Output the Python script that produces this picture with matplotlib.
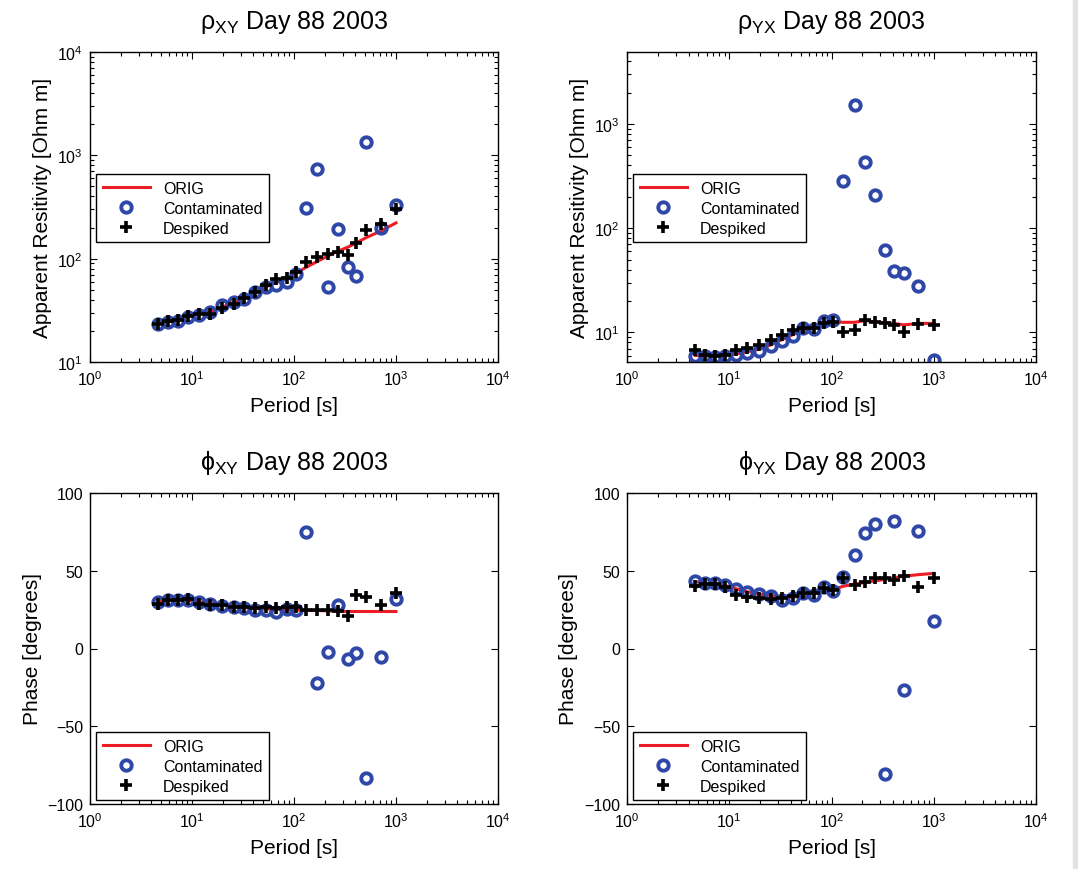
import numpy as np
import matplotlib
matplotlib.use('Agg')
import matplotlib.pyplot as plt
from matplotlib.patches import Rectangle

plt.rcParams['font.family'] = ['Liberation Sans', 'DejaVu Sans']
plt.rcParams['mathtext.fontset'] = 'custom'
plt.rcParams['mathtext.rm'] = 'Liberation Sans'
plt.rcParams['mathtext.it'] = 'Liberation Sans'
plt.rcParams['mathtext.default'] = 'regular'

# periods [s]
period = [4.67, 5.84, 7.31, 9.14, 11.6, 14.9, 19.7, 25.6, 32.6, 41.7, 52.9, 67.3,
          84.9, 104, 130, 169, 214, 268, 336, 408, 511, 709, 1000]

# rho xy
rho_xy_orig = [23.3, 24.5, 25.2, 27.5, 29.0, 30.5, 34.0, 37.5, 41.5, 47.0, 53.5, 59.0,
               64.0, 72.0, 82.0, 94.0, 106, 118, 129, 142, 160, 185, 222]
rho_xy_cont = [23.3, 24.4, 25.0, 27.2, 28.6, 30.8, 35.3, 38.0, 40.9, 47.5, 53.1, 55.9,
               59.3, 71.1, 309, 743, 53.1, 195, 83, 68, 1346, 198, 328]
rho_xy_desp = [23.5, 24.8, 25.3, 27.7, 29.4, 29.4, 33.3, 36.7, 41.6, 47.5, 55.2, 63.1,
               65.0, 74.3, 92.9, 104, 112, 116, 109, 143, 188, 218, 305]

# rho yx
rho_yx_orig = [6.0, 5.95, 5.9, 6.0, 6.2, 6.5, 6.9, 7.6, 8.5, 9.5, 10.6, 11.0,
               12.0, 12.6, 12.5, 12.5, 13.0, 12.6, 12.4, 12.2, 11.8, 12.2, 12.2]
rho_yx_cont = [5.89, 5.89, 5.8, 5.97, 6.11, 6.33, 6.58, 7.45, 8.2, 9.3, 11.0, 10.8,
               12.8, 13.2, 282, 1510, 428, 210, 62.2, 39.1, 37.1, 27.7, 5.38]
rho_yx_desp = [6.82, 6.11, 5.97, 6.11, 6.82, 7.07, 7.62, 8.5, 9.5, 10.6, 11.0, 11.0,
               12.3, 12.5, 10.2, 10.5, 13.2, 12.5, 12.3, 11.8, 10.0, 12.1, 11.7]

# phi xy
phi_xy_orig = [30.0, 30.8, 31.0, 31.0, 30.2, 29.0, 28.0, 27.0, 26.3, 25.8, 25.5, 25.2,
               25.0, 24.8, 24.6, 24.4, 24.2, 24.0, 23.8, 23.8, 23.8, 23.8, 23.8]
phi_xy_cont = [29.8, 30.9, 30.9, 31.3, 30.2, 28.7, 27.4, 26.6, 26.0, 24.9, 24.9, 23.2,
               25.3, 24.5, 74.9, -22.3, -2.3, 28.1, -7.0, -2.8, -83.6, -5.5, 31.7]
phi_xy_desp = [28.7, 30.9, 30.9, 31.9, 28.7, 28.1, 28.1, 26.6, 26.6, 26.0, 26.6, 26.0,
               27.0, 26.6, 24.5, 24.9, 24.9, 23.8, 21.1, 34.5, 33.0, 28.1, 35.5]

# phi yx
phi_yx_orig = [43.0, 42.0, 41.5, 40.5, 38.5, 36.5, 35.0, 34.0, 33.0, 33.0, 34.0, 35.5,
               37.0, 38.0, 40.0, 41.5, 42.5, 43.5, 44.5, 45.5, 46.5, 47.5, 48.3]
phi_yx_cont = [43.6, 42.3, 42.3, 40.9, 38.1, 36.6, 35.1, 33.8, 30.9, 32.3, 36.0, 34.5,
               39.4, 37.0, 46.2, 60.0, 74.5, 79.8, -80.4, 82.3, -26.6, 75.3, 17.9]
phi_yx_desp = [40.2, 41.5, 41.5, 39.4, 34.5, 33.4, 32.3, 31.7, 32.3, 33.8, 35.5, 36.0,
               38.7, 37.7, 45.1, 40.9, 43.0, 45.1, 45.1, 44.0, 46.8, 39.4, 45.1]

fig = plt.figure(figsize=(10.78, 8.70), dpi=100)
fig.patches.append(Rectangle((1073/1078, 0), 5/1078, 1, transform=fig.transFigure,
                             color='#e2e2e2', zorder=0))

panels = [
    ([90/1078, 507/870, 408/1078, 310/870], rho_xy_orig, rho_xy_cont, rho_xy_desp,
     r'$\rho_{XY}$ Day 88 2003', 'Apparent Resitivity [Ohm m]', True, (10, 1e4), 0.606),
    ([627/1078, 507/870, 409/1078, 310/870], rho_yx_orig, rho_yx_cont, rho_yx_desp,
     r'$\rho_{YX}$ Day 88 2003', 'Apparent Resitivity [Ohm m]', True, (5.2, 4900), 0.606),
    ([90/1078, 65/870, 408/1078, 311/870], phi_xy_orig, phi_xy_cont, phi_xy_desp,
     r'$\phi_{XY}$ Day 88 2003', 'Phase [degrees]', False, (-100, 100), 0.23),
    ([627/1078, 65/870, 409/1078, 311/870], phi_yx_orig, phi_yx_cont, phi_yx_desp,
     r'$\phi_{YX}$ Day 88 2003', 'Phase [degrees]', False, (-100, 100), 0.23),
]

for pos, orig, cont, desp, title, ylab, logy, ylim, legy in panels:
    ax = fig.add_axes(pos)
    ax.plot(period, orig, color='#ee1c24', lw=2.2, label='ORIG')
    ax.plot(period, cont, 'o', mfc='none', mec='#2f48a8', ms=7.5, mew=2.8, label='Contaminated')
    ax.plot(period, desp, '+', color='k', ms=9, mew=2.6, label='Despiked')
    ax.set_xscale('log')
    if logy:
        ax.set_yscale('log')
    else:
        ax.set_yticks([-100, -50, 0, 50, 100])
    ax.set_xlim(1, 1e4)
    ax.set_ylim(*ylim)
    ax.tick_params(which='both', direction='in', top=True, right=True, labelsize=11.5)
    ax.tick_params(which='major', length=5, width=0.8, pad=5)
    ax.tick_params(which='minor', length=3, width=0.8)
    for s in ax.spines.values():
        s.set_linewidth(1.0)
    ax.set_title(title, fontsize=18, pad=17)
    ax.set_xlabel('Period [s]', fontsize=15, labelpad=6)
    ax.set_ylabel(ylab, fontsize=15)
    leg = ax.legend(loc='upper left', bbox_to_anchor=(0.015, legy), fontsize=11.5,
                    numpoints=1, handlelength=3.0, labelspacing=0.32, borderpad=0.4,
                    fancybox=False, framealpha=1, edgecolor='k', borderaxespad=0)
    leg.get_frame().set_linewidth(1.0)

fig.savefig('out.png', dpi=100)
